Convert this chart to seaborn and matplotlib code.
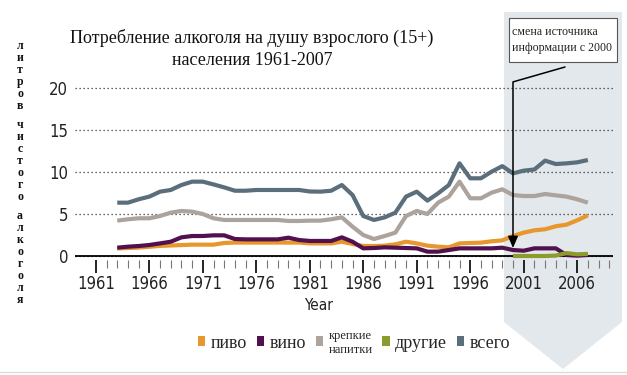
import numpy as np
import pandas as pd
import seaborn as sns
import matplotlib.pyplot as plt
from matplotlib.patches import Patch, Polygon, Rectangle
from matplotlib.lines import Line2D

# --- данные (литров чистого алкоголя на душу 15+) ---
YEARS = list(range(1963, 2008))
PIVO = [0.9, 0.95, 1.0, 1.1, 1.2, 1.25, 1.3, 1.35, 1.35, 1.35,
        1.55, 1.6, 1.6, 1.6, 1.6, 1.6, 1.6, 1.6,
        1.5, 1.5, 1.5, 1.7, 1.43, 1.19, 1.19, 1.23, 1.39,
        1.7, 1.5, 1.23, 1.11, 1.03, 1.5, 1.55, 1.59, 1.75, 1.86,
        2.38, 2.78, 3.06, 3.18, 3.54, 3.73, 4.25, 4.84]
VINO = [0.99, 1.11, 1.19, 1.31, 1.5, 1.7, 2.22, 2.38, 2.38, 2.46,
        2.46, 2.02, 1.98, 1.98, 1.98, 1.98, 2.18, 1.9,
        1.79, 1.79, 1.79, 2.22, 1.7, 0.91, 0.95, 1.03, 0.99,
        0.95, 0.91, 0.52, 0.52, 0.71, 0.91, 0.91, 0.91, 0.91, 0.99,
        0.71, 0.63, 0.91, 0.91, 0.91, 0.12, 0.04, 0.12]
KREPKIE = [4.21, 4.37, 4.49, 4.49, 4.76, 5.16, 5.36, 5.28, 5.0, 4.49,
           4.29, 4.29, 4.29, 4.29, 4.29, 4.29, 4.17, 4.17,
           4.21, 4.21, 4.37, 4.6, 3.49, 2.5, 2.02, 2.38, 2.78,
           4.76, 5.36, 5.0, 6.35, 7.07, 8.85, 6.87, 6.87, 7.54, 7.94,
           7.26, 7.14, 7.14, 7.38, 7.22, 7.07, 6.75, 6.35]
DRUGIE = [np.nan] * 37 + [0.0, 0.0, 0.0, 0.0, 0.05, 0.35, 0.2, 0.25]
VSEGO = [6.35, 6.35, 6.75, 7.07, 7.66, 7.86, 8.45, 8.85, 8.85, 8.52,
         8.17, 7.77, 7.77, 7.86, 7.86, 7.86, 7.86, 7.86,
         7.68, 7.66, 7.77, 8.45, 7.26, 4.76, 4.29, 4.6, 5.16,
         7.07, 7.66, 6.59, 7.46, 8.45, 11.03, 9.25, 9.25, 10.04, 10.7,
         9.84, 10.16, 10.3, 11.35, 10.95, 11.03, 11.15, 11.43]

SERIES = ["всего", "крепкие\nнапитки", "пиво", "вино", "другие"]
COLORS = {"пиво": "#e8972d", "вино": "#52104f", "крепкие\nнапитки": "#aba39c",
          "другие": "#8b9c2c", "всего": "#5b6e7b"}
LEGEND_ORDER = ["пиво", "вино", "крепкие\nнапитки", "другие", "всего"]

df = pd.DataFrame({"year": YEARS, "пиво": PIVO, "вино": VINO,
                   "крепкие\nнапитки": KREPKIE, "другие": DRUGIE, "всего": VSEGO})
long = df.melt(id_vars="year", var_name="вид", value_name="литров").dropna()

sns.set_style("white")
SERIF = ["Liberation Serif", "DejaVu Serif"]
plt.rcParams["font.family"] = SERIF
NARROW = dict(family="DejaVu Sans", stretch="condensed")

W, H = 627, 375
fig = plt.figure(figsize=(W / 100, H / 100), dpi=100)

# затенённая область "смена источника" + линия внизу
shade = Polygon([(504 / W, 1 - 12 / H), (622 / W, 1 - 12 / H), (622 / W, 1 - 322 / H),
                 (563 / W, 1 - 369 / H), (504 / W, 1 - 322 / H)],
                closed=True, transform=fig.transFigure, facecolor="#e3e8ec",
                edgecolor="none", zorder=-5)
fig.patches.append(shade)
fig.add_artist(Line2D([0, 1], [1 - 372 / H, 1 - 372 / H], transform=fig.transFigure,
                      color="#dcdcdc", lw=1))

ax = fig.add_axes([75 / W, (H - 261.04) / H, 538 / W, 177.24 / H])
ax.set_facecolor("none")

sns.lineplot(data=long, x="year", y="литров", hue="вид", hue_order=SERIES,
             palette=COLORS, linewidth=3.0, legend=False, ax=ax, zorder=3)
for ln in ax.lines:
    ln.set_solid_joinstyle("round")
    ln.set_solid_capstyle("butt")

ax.set_xlim(1959.05, 2009.35)
ax.set_ylim(-0.6, 20.5)
for s in ["top", "right", "left"]:
    ax.spines[s].set_visible(False)
ax.spines["bottom"].set_position(("data", -0.45))
ax.spines["bottom"].set_visible(False)
ax.axhline(0, color="black", lw=1.3, zorder=2)

ax.set_yticks([0, 5, 10, 15, 20])
ax.yaxis.grid(True, linestyle=(0, (1, 2.2)), color="#333333", lw=0.9)
ax.set_xticks(range(1961, 2007, 5))
ax.set_xticks([y for y in range(1962, 2010) if (y - 1961) % 5], minor=True)
ax.tick_params(axis="x", which="major", length=9, width=1.2, color="black",
               pad=2, labelsize=12, bottom=True)
ax.tick_params(axis="x", which="minor", length=6, width=0.8, color="#777777", bottom=True)
ax.tick_params(axis="y", length=0, pad=5, labelsize=12)
for lab in ax.get_xticklabels() + ax.get_yticklabels():
    lab.set_family(NARROW["family"])
    lab.set_stretch(NARROW["stretch"])
    lab.set_color("#222222")
ax.set_xlabel("")
ax.set_ylabel("")

fig.text(319 / W, 1 - 305 / H, "Year", ha="center", va="center",
         fontsize=11, color="#222222", **NARROW)

# заголовок
fig.text(252 / W, 1 - 49 / H,
         "Потребление алкоголя на душу взрослого (15+)\nнаселения 1961-2007",
         ha="center", va="center", fontsize=13, linespacing=1.35, color="#111111")

# вертикальная подпись оси y, по букве
yl = 45.7
for word in ["литров", "чистого", "алкоголя"]:
    for ch in word:
        fig.text(20 / W, 1 - yl / H, ch, ha="center", va="center",
                 fontsize=8.5, fontweight="bold", color="#111111")
        yl += 12
    yl += 7

# примечание
fig.patches.append(Rectangle((509 / W, 1 - 62 / H), 108 / W, 44 / H,
                             transform=fig.transFigure, facecolor="white",
                             edgecolor="#555555", lw=0.8, zorder=1))
fig.text(512 / W, 1 - 40 / H, "смена источника\nинформации с 2000", ha="left",
         va="center", fontsize=8.6, linespacing=1.35, color="#222222", zorder=2)
ax.annotate("", xy=(2000, 0.95), xycoords="data",
            xytext=(565, H - 67), textcoords="figure pixels",
            arrowprops=dict(arrowstyle="-|>,head_length=0.7,head_width=0.3",
                            connectionstyle="angle,angleA=196,angleB=90,rad=0",
                            color="black", lw=1.1, shrinkA=0, shrinkB=0),
            annotation_clip=False, zorder=4)

# легенда
handles = [Patch(facecolor=COLORS[k], edgecolor="none") for k in LEGEND_ORDER]
leg = fig.legend(handles, LEGEND_ORDER, loc="center", ncol=5,
                 bbox_to_anchor=(354 / W, 1 - 343 / H), frameon=False,
                 handlelength=0.4, handleheight=0.4, handletextpad=0.3,
                 columnspacing=0.55, fontsize=13)
leg.get_texts()[2].set_fontsize(9)

fig.savefig("out.png", dpi=100)
